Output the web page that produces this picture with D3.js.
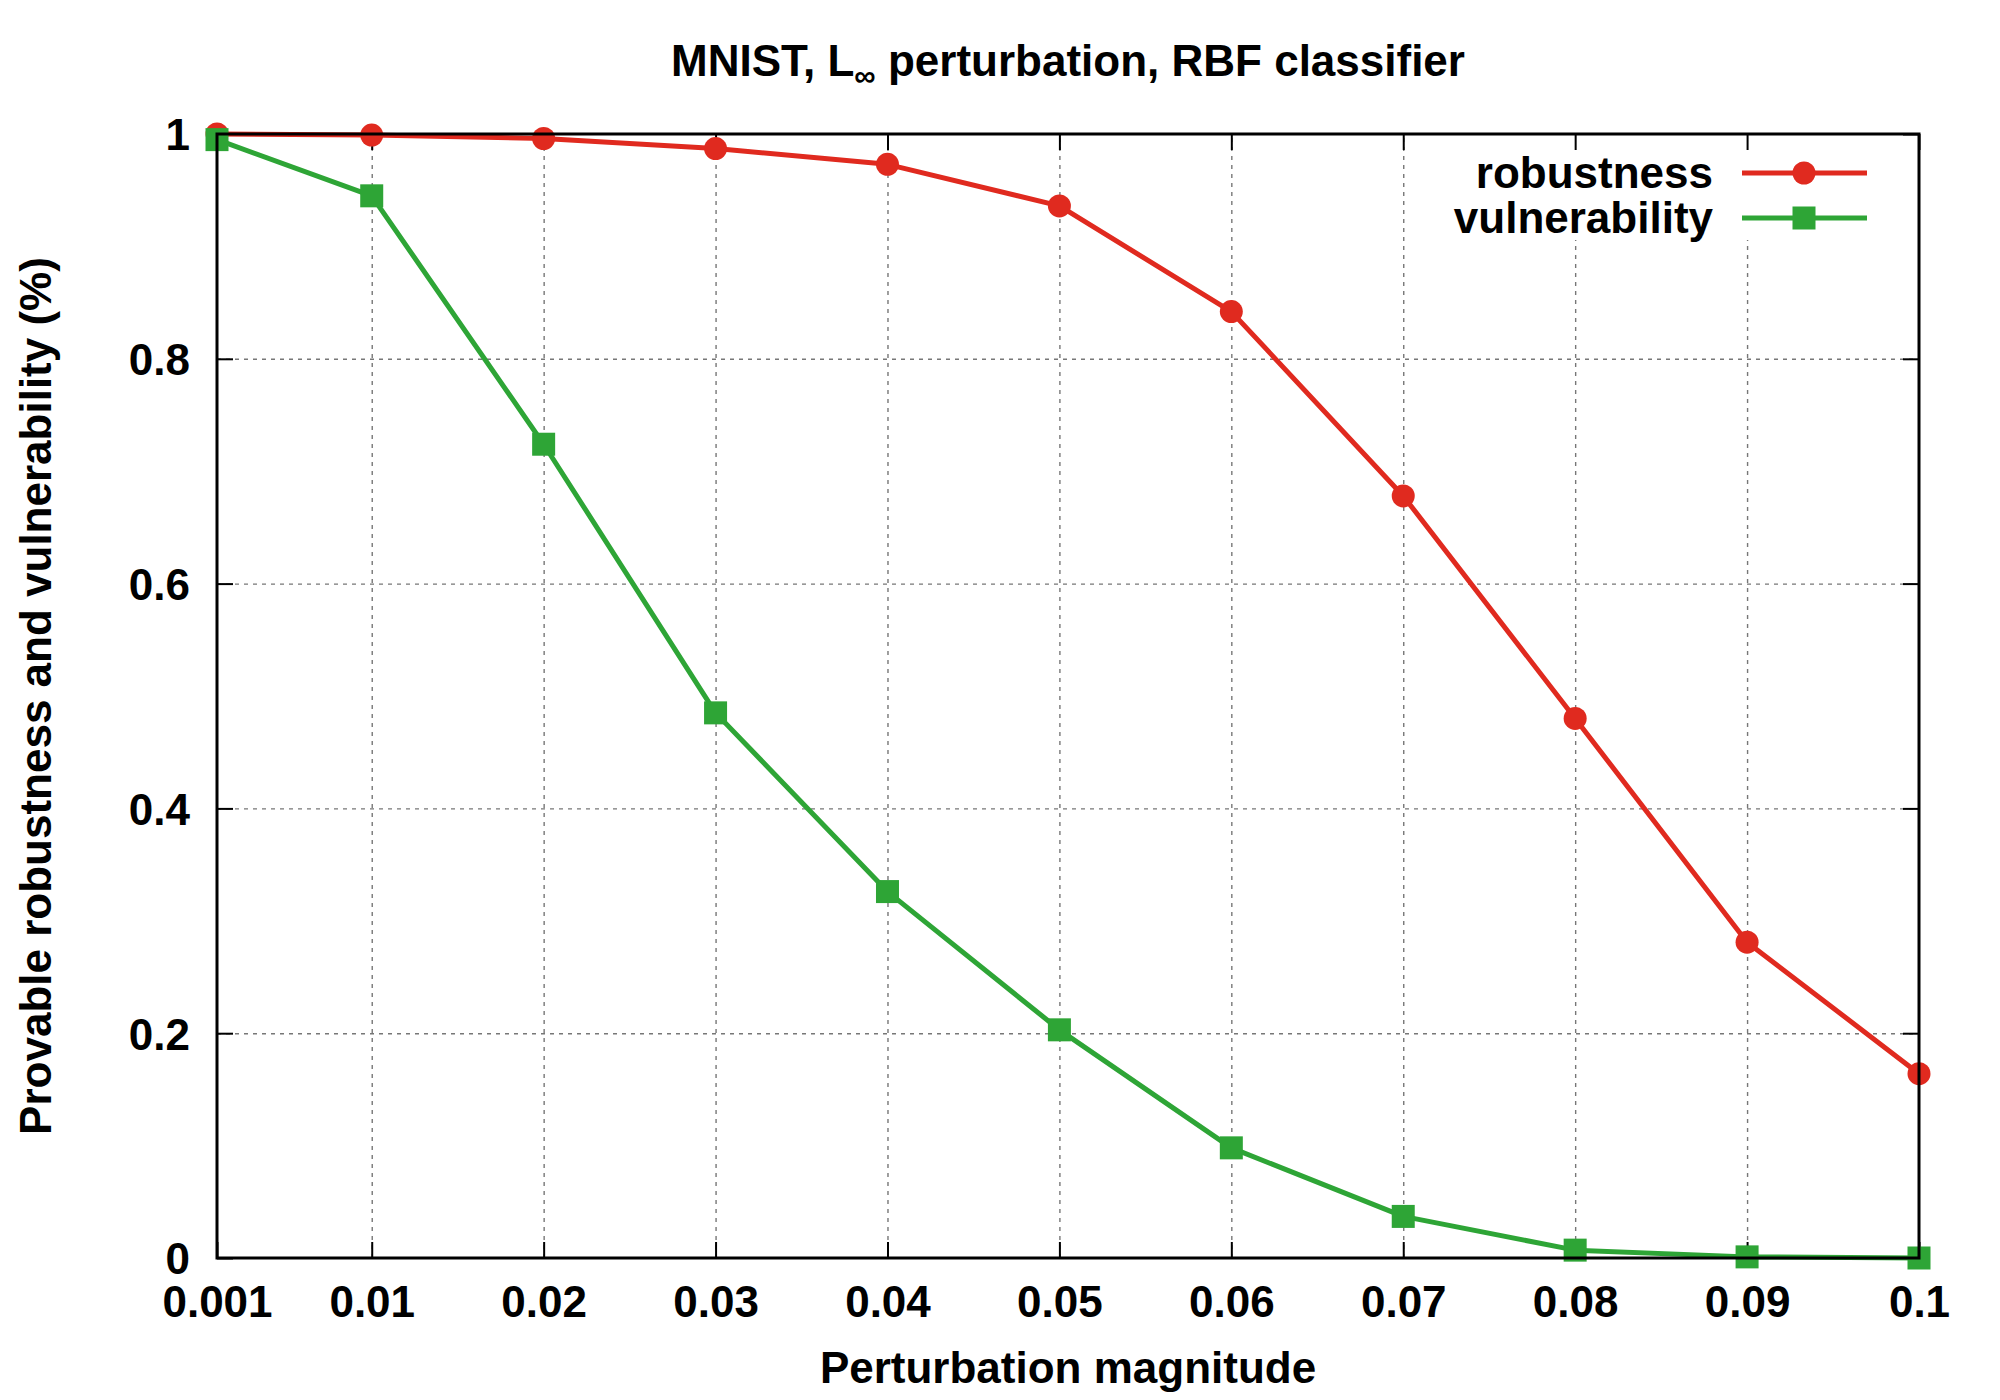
<!DOCTYPE html>
<html>
<head>
<meta charset="utf-8">
<title>MNIST robustness / vulnerability</title>
<script src="https://d3js.org/d3.v7.min.js"></script>
<style>
    body { margin: 0; background: #fff; }
    text { font-family: "Liberation Sans", Arial, sans-serif; font-weight: bold; fill: #000; }
    .grid line { stroke: #777; stroke-width: 1.4; stroke-dasharray: 4,5; }
    .grid path { display: none; }
    .axis path { display: none; }
    .axis line { stroke: #000; stroke-width: 2; }
</style>
</head>
<body>
<svg class="chart"></svg>
<script>
    // data
    var magnitudes = [0.001, 0.01, 0.02, 0.03, 0.04, 0.05, 0.06, 0.07, 0.08, 0.09, 0.1];
    var xTickLabels = ["0.001", "0.01", "0.02", "0.03", "0.04", "0.05", "0.06", "0.07", "0.08", "0.09", "0.1"];
    var robustness = [1.0, 0.999, 0.996, 0.987, 0.973, 0.936, 0.842, 0.678, 0.480, 0.281, 0.164];
    var vulnerability = [0.995, 0.945, 0.724, 0.485, 0.326, 0.203, 0.098, 0.037, 0.007, 0.001, 0.0];
    var yTicks = [0, 0.2, 0.4, 0.6, 0.8, 1];
    var seriesNames = ["robustness", "vulnerability"];
    var seriesColors = ["#e02a1f", "#2ea536"];

    //set up chart
    var margin = { top: 134, right: 81, bottom: 142, left: 217 };
    var width = 1702;
    var height = 1124;

    var svg = d3.select(".chart")
        .attr("width", 2000)
        .attr("height", 1400);

    var chart = svg.append("g")
        .attr("transform", "translate(" + margin.left + "," + margin.top + ")");

    var x = d3.scaleLinear().domain([0.001, 0.1]).range([0, width]);
    var y = d3.scaleLinear().domain([0, 1]).range([height, 0]);

    //grid
    chart.append("g")
        .attr("class", "grid")
        .attr("transform", "translate(0," + height + ")")
        .call(d3.axisBottom(x).tickValues(magnitudes.slice(1, -1)).tickSize(-height).tickFormat(""));
    chart.append("g")
        .attr("class", "grid")
        .call(d3.axisLeft(y).tickValues(yTicks.slice(1, -1)).tickSize(-width).tickFormat(""));

    // legend box hides the grid behind it
    chart.append("rect")
        .attr("x", 1193).attr("y", 2)
        .attr("width", 505).attr("height", 104)
        .attr("fill", "#fff");

    //axes, ticks pointing inward on all four sides
    var xAxis = chart.append("g")
        .attr("class", "axis")
        .attr("transform", "translate(0," + height + ")")
        .call(d3.axisBottom(x).tickValues(magnitudes).tickSize(-16).tickPadding(59)
            .tickFormat(function(d, i) { return xTickLabels[i]; }));
    xAxis.selectAll("text").attr("font-size", 44).attr("dy", 0);

    var yAxis = chart.append("g")
        .attr("class", "axis")
        .call(d3.axisLeft(y).tickValues(yTicks).tickSize(-16).tickPadding(27)
            .tickFormat(d3.format("")));
    yAxis.selectAll("text").attr("font-size", 44).attr("dy", "0.36em");

    chart.append("g")
        .attr("class", "axis")
        .call(d3.axisTop(x).tickValues(magnitudes).tickSize(-16).tickFormat(""));
    chart.append("g")
        .attr("class", "axis")
        .attr("transform", "translate(" + width + ",0)")
        .call(d3.axisRight(y).tickValues(yTicks).tickSize(-16).tickFormat(""));

    //lines and markers
    var line = d3.line()
        .x(function(d) { return x(d[0]); })
        .y(function(d) { return y(d[1]); });

    var series = [robustness, vulnerability];
    series.forEach(function(values, s) {
        var pts = magnitudes.map(function(m, i) { return [m, values[i]]; });
        chart.append("path")
            .datum(pts)
            .attr("fill", "none")
            .attr("stroke", seriesColors[s])
            .attr("stroke-width", 5)
            .attr("stroke-linejoin", "round")
            .attr("d", line);
        if (s === 0) {
            chart.selectAll(".dot").data(pts).enter()
                .append("circle")
                .attr("class", "dot")
                .attr("cx", function(d) { return x(d[0]); })
                .attr("cy", function(d) { return y(d[1]); })
                .attr("r", 11.5)
                .attr("fill", seriesColors[s]);
        } else {
            chart.selectAll(".sq").data(pts).enter()
                .append("rect")
                .attr("class", "sq")
                .attr("x", function(d) { return x(d[0]) - 11.5; })
                .attr("y", function(d) { return y(d[1]) - 11.5; })
                .attr("width", 23)
                .attr("height", 23)
                .attr("fill", seriesColors[s]);
        }
    });

    //border on top
    chart.append("rect")
        .attr("width", width).attr("height", height)
        .attr("fill", "none")
        .attr("stroke", "#000")
        .attr("stroke-width", 3);

    //legend
    var legend = chart.append("g");
    seriesNames.forEach(function(name, i) {
        var ly = 39 + i * 45;
        legend.append("text")
            .attr("x", 1496).attr("y", ly + 15)
            .attr("text-anchor", "end")
            .attr("font-size", 44)
            .text(name);
        legend.append("line")
            .attr("x1", 1525).attr("x2", 1650)
            .attr("y1", ly).attr("y2", ly)
            .attr("stroke", seriesColors[i])
            .attr("stroke-width", 5);
        if (i === 0) {
            legend.append("circle")
                .attr("cx", 1587).attr("cy", ly).attr("r", 11.5)
                .attr("fill", seriesColors[i]);
        } else {
            legend.append("rect")
                .attr("x", 1587 - 11.5).attr("y", ly - 11.5)
                .attr("width", 23).attr("height", 23)
                .attr("fill", seriesColors[i]);
        }
    });

    //title
    var title = svg.append("text")
        .attr("x", 1068).attr("y", 76)
        .attr("text-anchor", "middle")
        .attr("font-size", 44);
    title.append("tspan").text("MNIST, L");
    title.append("tspan").attr("font-size", 30).attr("dy", 10).text("\u221e");
    title.append("tspan").attr("dy", -10).text(" perturbation, RBF classifier");

    //axis labels
    svg.append("text")
        .attr("x", margin.left + width / 2).attr("y", 1383)
        .attr("text-anchor", "middle")
        .attr("font-size", 44)
        .text("Perturbation magnitude");

    svg.append("text")
        .attr("transform", "translate(51," + (margin.top + height / 2) + ") rotate(-90)")
        .attr("text-anchor", "middle")
        .attr("font-size", 44)
        .text("Provable robustness and vulnerability (%)");
</script>
</body>
</html>
